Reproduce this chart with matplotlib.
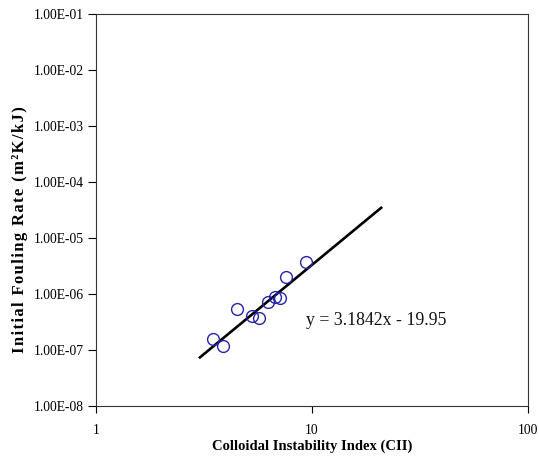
import numpy as np
import matplotlib.pyplot as plt
from matplotlib.ticker import FixedLocator, NullLocator

# measured points (CII vs initial fouling rate)
cii = [3.48, 3.87, 4.50, 5.25, 5.69, 6.26, 6.75, 7.12, 7.58, 9.38]
fouling_rate = [1.57e-7, 1.18e-7, 5.4e-7, 4.0e-7, 3.7e-7, 7.2e-7, 9.0e-7, 8.5e-7, 2.0e-6, 3.7e-6]

# trendline: ln(y) = slope * ln(x) + intercept
slope = 3.1842
intercept = -19.95
fit_x_range = [3.03, 20.9]

x_ticks = [1, 10, 100]
y_ticks = [1e-8, 1e-7, 1e-6, 1e-5, 1e-4, 1e-3, 1e-2, 1e-1]

plt.rcParams['font.family'] = ['Liberation Serif', 'DejaVu Serif']

fig = plt.figure(figsize=(5.39, 4.57), dpi=100)
ax = fig.add_axes([96 / 539, 1 - 406 / 457, 432 / 539, 392 / 457])

ax.set_xscale('log')
ax.set_yscale('log')
ax.set_xlim(1, 100)
ax.set_ylim(1e-8, 1e-1)

fit_x = np.array(fit_x_range)
fit_y = np.exp(intercept) * fit_x ** slope
ax.plot(fit_x, fit_y, color='black', linewidth=1.9, zorder=2)

ax.plot(cii, fouling_rate, linestyle='none', marker='o', markersize=8.5,
        markerfacecolor='none', markeredgecolor='#2424a8', markeredgewidth=1.0, zorder=3)

ax.text(9.38, 3.4e-7, f'y = {slope}x - {abs(intercept)}', fontsize=12.8,
        ha='left', va='center', color='#111111')

ax.xaxis.set_major_locator(FixedLocator(x_ticks))
ax.yaxis.set_major_locator(FixedLocator(y_ticks))
ax.xaxis.set_minor_locator(NullLocator())
ax.yaxis.set_minor_locator(NullLocator())
ax.set_xticklabels([str(t) for t in x_ticks])
ax.set_yticklabels([f'{t:.2E}' for t in y_ticks])
ax.tick_params(axis='y', direction='out', length=6, width=0.8, labelsize=9.8, pad=3)
ax.tick_params(axis='x', direction='out', length=5, width=0.8, labelsize=9.8, pad=8)

for sp in ax.spines.values():
    sp.set_linewidth(0.8)
    sp.set_color('#333333')

ax.set_xlabel('Colloidal Instability Index (CII)', fontsize=10.5, fontweight='bold')
ax.xaxis.set_label_coords(0.5, -0.085)

# the source label is letter-spaced, mimic with hair spaces
ylab = '\u200a'.join('Initial Fouling Rate (m\u00b2K/kJ)')
ax.set_ylabel(ylab, fontsize=12, fontweight='bold')
ax.yaxis.set_label_coords(-(96 - 28) / 432, (406 - 230) / 392)

fig.savefig('out.png', dpi=100)
